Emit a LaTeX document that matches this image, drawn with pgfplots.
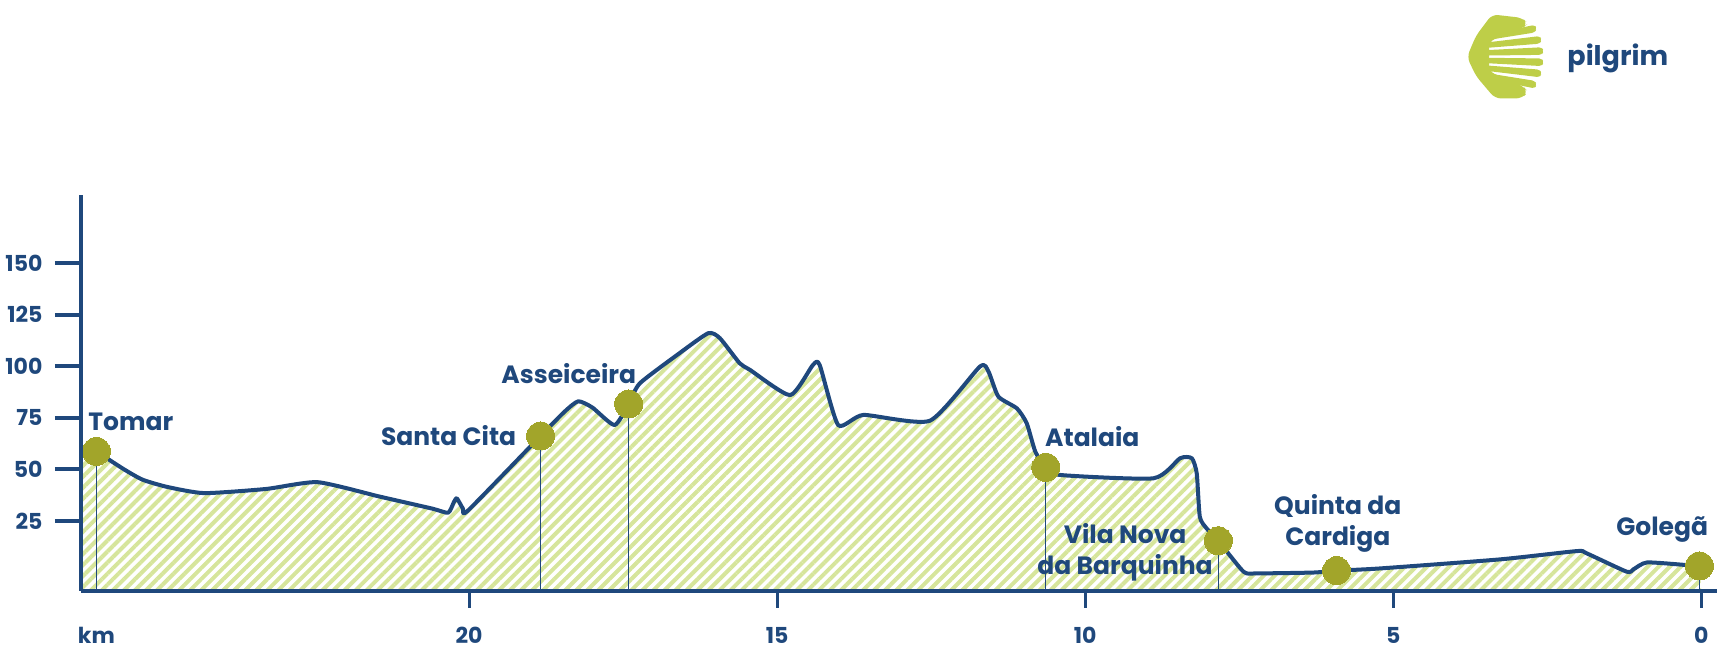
\documentclass[border=0pt]{standalone}
\usepackage{pgfplots}
\pgfplotsset{compat=1.18}
\usepackage{pgfplotstable}
\usepgfplotslibrary{fillbetween}
\usetikzlibrary{patterns.meta}
\usepackage{fontspec}
\setmainfont{Poppins}

\definecolor{navy}{RGB}{31,72,124}
\definecolor{dotc}{RGB}{162,165,42}
\definecolor{hatch}{RGB}{214,229,155}
\definecolor{logo}{RGB}{190,206,72}

\pgfplotstableread{
km elev
26.30 53
26.05 58.7
25.60 50
25.30 45
24.90 41.5
24.30 38.5
23.30 40.5
22.46 43.8
21.45 36.8
20.60 31
20.34 29.0
20.25 34
20.20 36
20.10 31
20.02 30
18.84 66.2
18.45 78
18.23 83
18.00 80
17.64 71.5
17.41 81.7
17.23 91.7
16.60 106
16.12 116
15.93 113.6
15.61 101.5
15.44 98.2
14.79 86
14.42 100.6
14.31 100.6
14.01 71.5
13.60 76.4
12.52 73.6
11.71 99.8
11.57 97.4
11.41 85.3
11.11 79.6
10.95 72.4
10.81 58.6
10.64 51
10.41 47.3
8.89 45.7
8.46 55.4
8.27 55.4
8.19 48.1
8.14 27
8.03 21.4
7.84 15.4
7.43 0.4
7.21 -0.4
6.30 0
5.92 0.9
5.21 2
3.26 6.4
2.02 10.4
1.86 9.3
1.21 0.4
1.10 1.6
0.88 4.9
0.23 3.6
0.03 3.2
}\filldata

\pgfplotstableread{
km elev
26.05 58.7
25.60 50
25.30 45
24.90 41.5
24.30 38.5
23.30 40.5
22.46 43.8
21.45 36.8
20.60 31
20.34 29.0
20.25 34
20.20 36
20.10 31
20.02 30
18.84 66.2
18.45 78
18.23 83
18.00 80
17.64 71.5
17.41 81.7
17.23 91.7
16.60 106
16.12 116
15.93 113.6
15.61 101.5
15.44 98.2
14.79 86
14.42 100.6
14.31 100.6
14.01 71.5
13.60 76.4
12.52 73.6
11.71 99.8
11.57 97.4
11.41 85.3
11.11 79.6
10.95 72.4
10.81 58.6
10.64 51
10.41 47.3
8.89 45.7
8.46 55.4
8.27 55.4
8.19 48.1
8.14 27
8.03 21.4
7.84 15.4
7.43 0.4
7.21 -0.4
6.30 0
5.92 0.9
5.21 2
3.26 6.4
2.02 10.4
1.86 9.3
1.21 0.4
1.10 1.6
0.88 4.9
0.23 3.6
0.03 3.2
}\profile

\pgfplotstableread{
km elev
26.05 58.7
18.84 66.2
17.41 81.7
10.64 51
7.84 15.4
5.92 0.9
0.03 3.2
}\stops

\begin{document}
\begin{tikzpicture}
\begin{axis}[
  at={(0,0)}, anchor=south west,
  scale only axis, width=817.85pt, height=197.85pt,
  xmin=-0.25, xmax=26.3, x dir=reverse,
  ymin=-8.8, ymax=183,
  axis x line=bottom, axis y line=left,
  axis line style={navy, line width=2pt, -},
  xtick={0,5,10,15,20}, ytick={25,50,75,100,125,150},
  tick align=outside,
  xtick style={navy, line width=1.6pt, /pgfplots/major tick length=8.5pt},
  ytick style={navy, line width=2pt, /pgfplots/major tick length=13pt},
  ticklabel style={font=\bfseries\fontsize{11}{12}\selectfont, text=navy},
  yticklabel style={xshift=-11.5pt},
  xticklabel style={yshift=-10.5pt},
  /pgf/number format/assume math mode=true,
  axis on top,
  clip=false,
]
\addplot[name path=prof, draw=none, smooth, tension=0.35] table[x=km,y=elev] {\filldata};
\addplot[name path=base, draw=none] coordinates {(26.3,-8.8) (0.0,-8.8)};
\addplot[pattern={Lines[angle=45,distance=3.9pt,line width=2pt]}, pattern color=hatch, draw=none] fill between[of=prof and base];

\addplot[navy, line width=0.6pt] coordinates {(26.05,58.7) (26.05,-8.8)};
\addplot[navy, line width=0.6pt] coordinates {(18.84,66.2) (18.84,-8.8)};
\addplot[navy, line width=0.6pt] coordinates {(17.41,81.7) (17.41,-8.8)};
\addplot[navy, line width=0.6pt] coordinates {(10.64,51) (10.64,-8.8)};
\addplot[navy, line width=0.6pt] coordinates {(7.84,15.4) (7.84,-8.8)};
\addplot[navy, line width=0.6pt] coordinates {(0.03,3.2) (0.03,-8.8)};

\addplot[navy, line width=2pt, smooth, tension=0.35, line join=round] table[x=km,y=elev] {\profile};

\addplot[only marks, mark=*, mark size=7pt, mark options={fill=dotc, draw=dotc, line width=0pt}] table[x=km,y=elev] {\stops};

\tikzset{lab/.style={font=\bfseries\fontsize{12.5}{15.5}\selectfont, text=navy, inner sep=0pt}}
\node[lab, anchor=west] at ([xshift=-4.2pt,yshift=15pt]axis cs:26.05,58.7) {Tomar};
\node[lab, anchor=east] at ([xshift=-12pt,yshift=0pt]axis cs:18.84,66.2) {Santa Cita};
\node[lab, anchor=east] at ([xshift=3.9pt,yshift=15.3pt]axis cs:17.41,81.7) {Asseiceira};
\node[lab, anchor=west] at ([xshift=-0.5pt,yshift=15.6pt]axis cs:10.64,51) {Atalaia};
\node[lab, anchor=east, align=center] at ([xshift=-2.6pt,yshift=-5.9pt]axis cs:7.84,15.4) {Vila Nova\\da Barquinha};
\node[lab, anchor=center, align=center] at ([xshift=0.6pt,yshift=23.5pt]axis cs:5.92,0.9) {Quinta da\\Cardiga};
\node[lab, anchor=east] at ([xshift=4.5pt,yshift=18.4pt]axis cs:0.03,3.2) {Golegã};
\node[font=\bfseries\fontsize{11}{12}\selectfont, text=navy, anchor=center] at ([yshift=-22.2pt]axis cs:26.05,-8.8) {km};
\end{axis}

% logo, in pixel units of the reference (origin = axis lower-left corner)
\begin{scope}[x=0.5pt,y=-0.5pt,shift={(-40.5pt,295.35pt)}]
\begin{scope}[shift={(0,57)}, yscale=1.12, shift={(0,-55)}]
\fill[logo, rounded corners=3] (1492,17) -- (1522,20) -- (1528,25) -- (1523,29) -- (1489,41) -- (1489,68) -- (1523,81) -- (1528,86) -- (1522,92) -- (1495,92) -- (1476,72) -- (1467,55) -- (1476,36) -- cycle;
\foreach \yl/\yr/\xe in {-17/-25/1535, -10.2/-15/1540, -3.4/-5/1542, 3.4/5/1542, 10.2/15/1540, 17/25/1535} {
  \fill[logo, rounded corners=1.5] (1486,54.7+\yl-2.4) -- (\xe,54.7+\yr-3.4) -- (\xe+1.5,54.7+\yr) -- (\xe,54.7+\yr+3.4) -- (1486,54.7+\yl+2.4) -- cycle;
}
\end{scope}
\node[font=\bfseries\fontsize{13.5}{16}\selectfont, text=navy, anchor=west, inner sep=0pt] at (1567,58) {pilgrim};
\pgfresetboundingbox
\useasboundingbox (0,0) rectangle (1718,648);
\end{scope}
\end{tikzpicture}
\end{document}
